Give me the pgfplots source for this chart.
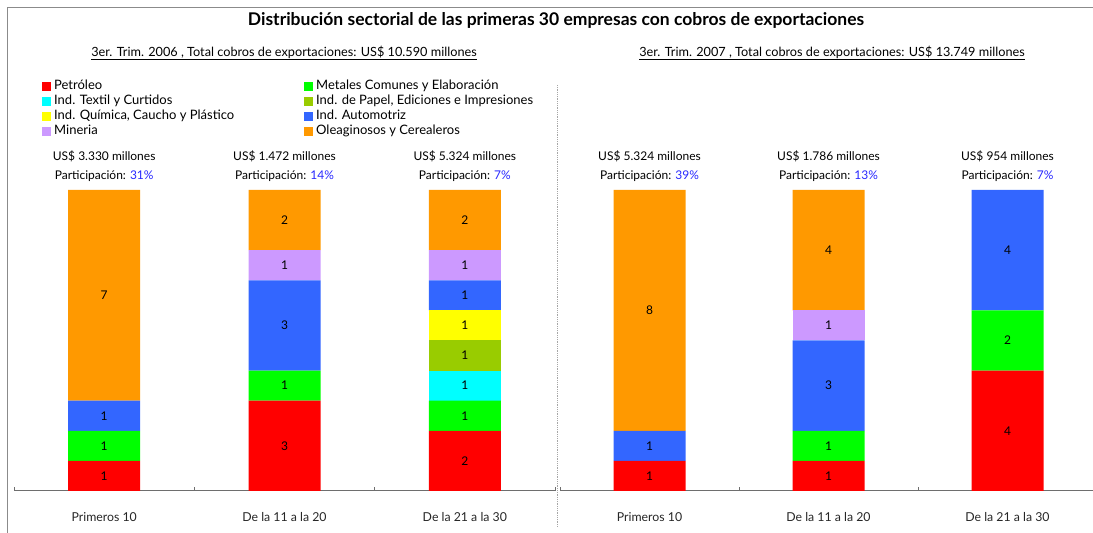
\documentclass[border=0pt]{standalone}
\usepackage{fontspec}
\setmainfont{Lato}
\usepackage{pgfplots}
\pgfplotsset{compat=1.18}
\definecolor{cPet}{RGB}{255,0,0}
\definecolor{cMet}{RGB}{0,255,0}
\definecolor{cTex}{RGB}{0,255,255}
\definecolor{cPap}{RGB}{153,204,0}
\definecolor{cQui}{RGB}{255,255,0}
\definecolor{cAut}{RGB}{51,102,255}
\definecolor{cMin}{RGB}{204,153,255}
\definecolor{cOle}{RGB}{255,153,0}
\definecolor{cPct}{RGB}{40,40,255}
\definecolor{cAx}{RGB}{110,110,110}
\newcommand\fs[1]{\fontsize{#1}{14}\selectfont}
\pgfplotsset{
  panel/.style={
    ybar stacked, bar width=72pt, scale only axis, height=301pt,
    ymin=0, ymax=10, xmin=-0.5, xmax=2.5,
    axis x line*=bottom, axis y line=none,
    xtick={0,1,2}, xticklabels={Primeros 10, De la 11 a la 20, De la 21 a la 30},
    major tick length=0pt, minor xtick={-0.5,0.5,1.5,2.5}, minor tick length=4pt,
    xtick align=inside,
    x axis line style={cAx, line width=1pt},
    minor tick style={cAx, line width=1pt},
    xticklabel style={font=\fs{12.3}, text=black!85, anchor=center, yshift=-26pt},
    clip=false,
    /pgf/number format/assume math mode=true,
    nodes near coords={\pgfmathfloatifflags{\pgfplotspointmeta}{0}{}{\pgfmathprintnumber{\pgfplotspointmeta}}},
    nodes near coords align=center,
    every node near coord/.style={anchor=center, font=\fs{12}, text=black, inner sep=0pt},
    legend image code/.code={\fill[#1] (0pt,-4.5pt) rectangle (9pt,4.5pt);},
  },
}
\begin{document}
\begin{tikzpicture}
\useasboundingbox (0,0) rectangle (1093pt,533pt);
\draw[cAx!80, line width=1.2pt] (7.5pt,0pt) -- (7.5pt,525.5pt) -- (1093pt,525.5pt);
\draw[gray!70, densely dotted, line width=0.8pt] (557pt,448pt) -- (557pt,6pt);
\node[font=\fs{17.5}\bfseries] at (556pt,513pt) {Distribución sectorial de las primeras 30 empresas con cobros de exportaciones};
\node[font=\fs{12.7}] at (284pt,480pt) {\underline{3er. Trim. 2006 , Total cobros de exportaciones: US\$ 10.590 millones}};
\node[font=\fs{12.7}] at (832pt,480pt) {\underline{3er. Trim. 2007 , Total cobros de exportaciones: US\$ 13.749 millones}};

\begin{axis}[panel, width=541pt, at={(14pt,42pt)}, anchor=south west,
  legend columns=2, legend cell align=left,
  legend style={draw=none, fill=none, at={(0.0462,1.372)}, anchor=north west, font=\fs{13},
    row sep=3pt, nodes={inner sep=0pt, inner xsep=3pt, text height=9pt, text depth=3pt},
    /tikz/every even column/.append style={column sep=67pt}}]
\addplot[fill=cPet, draw=none] coordinates {(0,1) (1,3) (2,2)};
\addplot[fill=cMet, draw=none] coordinates {(0,1) (1,1) (2,1)};
\addplot[fill=cTex, draw=none] coordinates {(0,0) (1,0) (2,1)};
\addplot[fill=cPap, draw=none] coordinates {(0,0) (1,0) (2,1)};
\addplot[fill=cQui, draw=none] coordinates {(0,0) (1,0) (2,1)};
\addplot[fill=cAut, draw=none] coordinates {(0,1) (1,3) (2,1)};
\addplot[fill=cMin, draw=none] coordinates {(0,0) (1,1) (2,1)};
\addplot[fill=cOle, draw=none] coordinates {(0,7) (1,2) (2,2)};
\legend{Petróleo, Metales Comunes y Elaboración, Ind. Textil y Curtidos, {Ind. de Papel, Ediciones e Impresiones}, {Ind. Química, Caucho y Plástico}, Ind. Automotriz, Mineria, Oleaginosos y Cerealeros}
\node[font=\fs{12}] at (axis cs:0,10) [yshift=34pt] {US\$ 3.330 millones};
\node[font=\fs{12}] at (axis cs:1,10) [yshift=34pt] {US\$ 1.472 millones};
\node[font=\fs{12}] at (axis cs:2,10) [yshift=34pt] {US\$ 5.324 millones};
\node[font=\fs{12}] at (axis cs:0,10) [yshift=14pt] {Participación: \textcolor{cPct}{31\%}};
\node[font=\fs{12}] at (axis cs:1,10) [yshift=14pt] {Participación: \textcolor{cPct}{14\%}};
\node[font=\fs{12}] at (axis cs:2,10) [yshift=14pt] {Participación: \textcolor{cPct}{7\%}};
\end{axis}

\begin{axis}[panel, width=537pt, at={(560pt,42pt)}, anchor=south west]
\addplot[fill=cPet, draw=none] coordinates {(0,1) (1,1) (2,4)};
\addplot[fill=cMet, draw=none] coordinates {(0,0) (1,1) (2,2)};
\addplot[fill=cTex, draw=none] coordinates {(0,0) (1,0) (2,0)};
\addplot[fill=cPap, draw=none] coordinates {(0,0) (1,0) (2,0)};
\addplot[fill=cQui, draw=none] coordinates {(0,0) (1,0) (2,0)};
\addplot[fill=cAut, draw=none] coordinates {(0,1) (1,3) (2,4)};
\addplot[fill=cMin, draw=none] coordinates {(0,0) (1,1) (2,0)};
\addplot[fill=cOle, draw=none] coordinates {(0,8) (1,4) (2,0)};
\node[font=\fs{12}] at (axis cs:0,10) [yshift=34pt] {US\$ 5.324 millones};
\node[font=\fs{12}] at (axis cs:1,10) [yshift=34pt] {US\$ 1.786 millones};
\node[font=\fs{12}] at (axis cs:2,10) [yshift=34pt] {US\$ 954 millones};
\node[font=\fs{12}] at (axis cs:0,10) [yshift=14pt] {Participación: \textcolor{cPct}{39\%}};
\node[font=\fs{12}] at (axis cs:1,10) [yshift=14pt] {Participación: \textcolor{cPct}{13\%}};
\node[font=\fs{12}] at (axis cs:2,10) [yshift=14pt] {Participación: \textcolor{cPct}{7\%}};
\end{axis}
\end{tikzpicture}
\end{document}
